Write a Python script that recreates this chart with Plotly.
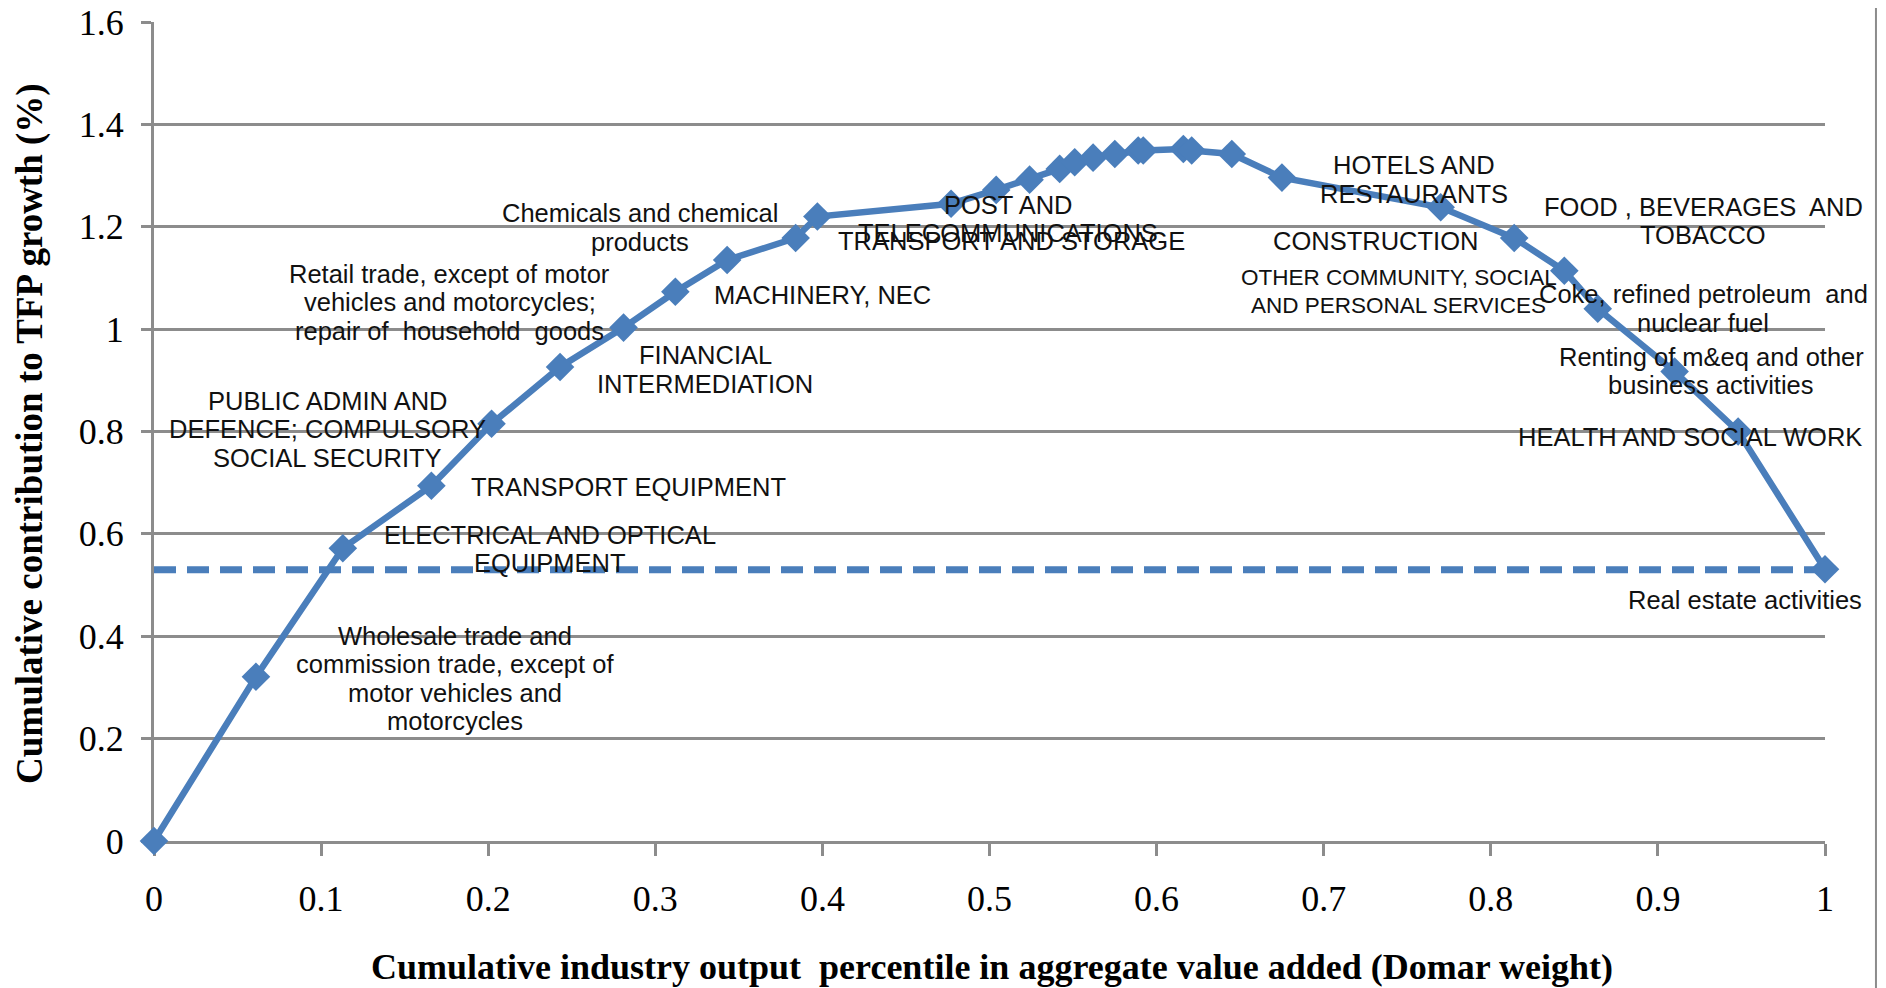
import plotly.graph_objects as go

# cumulative Domar weight (x) and cumulative contribution to TFP growth (y)
domar_cum = [0, 0.061, 0.113, 0.166, 0.202, 0.243, 0.281, 0.312, 0.343, 0.384, 0.397,
             0.477, 0.504, 0.524, 0.542, 0.551, 0.562, 0.575, 0.589, 0.592, 0.616,
             0.621, 0.645, 0.675, 0.770, 0.814, 0.844, 0.864, 0.910, 0.948, 1.0]
tfp_cum = [0, 0.321, 0.572, 0.694, 0.815, 0.926, 1.003, 1.073, 1.135, 1.178, 1.220,
           1.245, 1.272, 1.292, 1.313, 1.326, 1.335, 1.342, 1.349, 1.349, 1.352,
           1.349, 1.342, 1.296, 1.238, 1.178, 1.114, 1.040, 0.917, 0.800, 0.531]
total_tfp = 0.53

labels = [
    "Wholesale trade and<br>commission trade, except of<br>motor vehicles and<br>motorcycles",
    "ELECTRICAL AND OPTICAL<br>EQUIPMENT",
    "TRANSPORT EQUIPMENT",
    "PUBLIC ADMIN AND<br>DEFENCE; COMPULSORY<br>SOCIAL SECURITY",
    "FINANCIAL<br>INTERMEDIATION",
    "Retail trade, except of motor<br>vehicles and motorcycles;<br>repair of  household  goods",
    "MACHINERY, NEC",
    "Chemicals and chemical<br>products",
    "POST AND<br>TELECOMMUNICATIONS",
    "TRANSPORT AND STORAGE",
    "HOTELS AND<br>RESTAURANTS",
    "CONSTRUCTION",
    "OTHER COMMUNITY, SOCIAL<br>AND PERSONAL SERVICES",
    "FOOD , BEVERAGES  AND<br>TOBACCO",
    "Coke, refined petroleum  and<br>nuclear fuel",
    "Renting of m&eq and other<br>business activities",
    "HEALTH AND SOCIAL WORK",
    "Real estate activities",
]
# label centre positions (data units)
label_x = [0.180, 0.237, 0.284, 0.104, 0.330, 0.177, 0.400, 0.291, 0.511, 0.513,
           0.754, 0.731, 0.745, 0.927, 0.927, 0.932, 0.919, 0.952]
label_y = [0.317, 0.570, 0.691, 0.804, 0.921, 1.053, 1.067, 1.199, 1.215, 1.172,
           1.292, 1.172, 1.074, 1.211, 1.040, 0.918, 0.789, 0.470]
label_size = [25.5] * 12 + [22.5] + [25.5] * 5

x_ticks = [0, 0.1, 0.2, 0.3, 0.4, 0.5, 0.6, 0.7, 0.8, 0.9, 1]
y_ticks = [0, 0.2, 0.4, 0.6, 0.8, 1, 1.2, 1.4, 1.6]

x_title = "<b>Cumulative industry output  percentile in aggregate value added (Domar weight)</b>"
y_title = "<b>Cumulative contribution to TFP growth (%)</b>"

blue = "rgb(74,126,187)"
grid = "#8c8c8c"

fig = go.Figure()
fig.add_trace(go.Scatter(x=[0, 1], y=[total_tfp, total_tfp], mode="lines",
                         line=dict(color=blue, width=7, dash="22px,11px"),
                         hoverinfo="skip", cliponaxis=False))
fig.add_trace(go.Scatter(x=domar_cum, y=tfp_cum, mode="lines+markers",
                         line=dict(color=blue, width=6.5),
                         marker=dict(symbol="diamond", size=22, color=blue),
                         cliponaxis=False))

line_h = 28.5
for txt, lx, ly, sz in zip(labels, label_x, label_y, label_size):
    parts = txt.split("<br>")
    n = len(parts)
    for i, p in enumerate(parts):
        fig.add_annotation(x=lx, y=ly, xref="x", yref="y", text=p, showarrow=False,
                           yshift=((n - 1) / 2 - i) * line_h,
                           font=dict(family="Liberation Sans, Arial", size=sz, color="#111"))

# axis titles
fig.add_annotation(x=0.5013, y=-0.154, xref="paper", yref="paper", text=x_title,
                   showarrow=False, xanchor="center", yanchor="middle",
                   font=dict(family="Liberation Serif, Times New Roman", size=36, color="black"))
fig.add_annotation(x=-0.0742, y=0.497, xref="paper", yref="paper", text=y_title,
                   showarrow=False, textangle=-90, xanchor="center", yanchor="middle",
                   font=dict(family="Liberation Serif, Times New Roman", size=37, color="black"))

# outer chart frame edge on the right
fig.add_shape(type="line", xref="paper", yref="paper", x0=1.0305, x1=1.0305, y0=-0.19, y1=1.02,
              line=dict(color=grid, width=2))

# page body has an 8px margin, so the figure is offset by that amount
fig.update_layout(
    width=1870, height=980,
    margin=dict(l=146, r=53, t=14, b=147),
    paper_bgcolor="white", plot_bgcolor="white",
    showlegend=False,
    font=dict(family="Liberation Serif, Times New Roman", color="black"),
)
fig.update_xaxes(range=[0, 1], tickvals=x_ticks, ticktext=[f"{v:g}" for v in x_ticks],
                 showgrid=False, showline=True, linecolor=grid, linewidth=3,
                 ticks="outside", ticklen=12, tickcolor=grid, tickwidth=2.5,
                 ticklabelstandoff=12, tickfont=dict(size=36), zeroline=False,
                 ticklabeloverflow="allow",
                 automargin=False, layer="below traces")
fig.update_yaxes(range=[0, 1.6], tickvals=y_ticks, ticktext=[f"{v:g}" for v in y_ticks],
                 showgrid=True, gridcolor=grid, gridwidth=2.5,
                 showline=True, linecolor=grid, linewidth=3,
                 ticks="outside", ticklen=10, tickcolor=grid, tickwidth=2.5,
                 ticklabelstandoff=10, tickfont=dict(size=36), zeroline=False,
                 ticklabeloverflow="allow",
                 automargin=False, layer="below traces")

fig.write_html("out.html")
